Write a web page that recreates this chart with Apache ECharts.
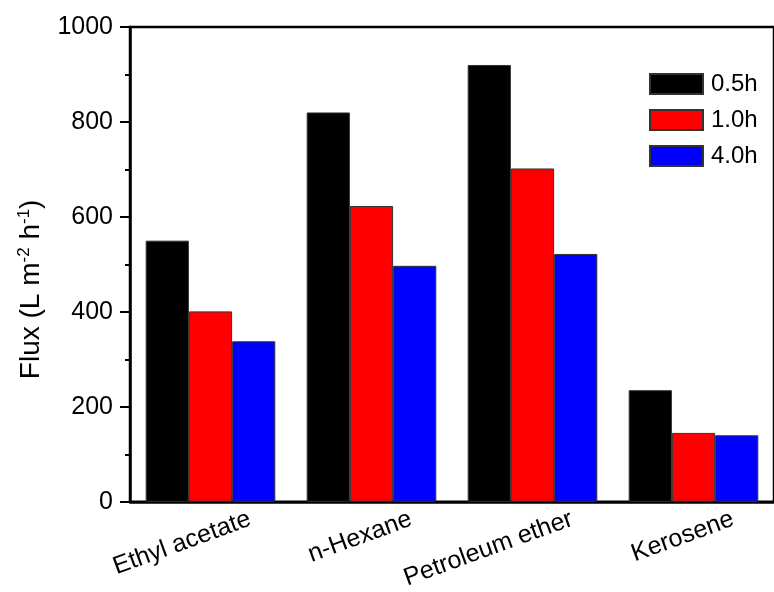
<!DOCTYPE html>
<html>
<head>
<meta charset="utf-8">
<style>html,body{margin:0;padding:0;background:#fff}#chart{width:774px;height:592px}</style>
<script src="https://cdn.jsdelivr.net/npm/echarts@6/dist/echarts.min.js"></script>
</head>
<body>
<div id="chart"></div>
<script>
var categories = ['Ethyl acetate', 'n-Hexane', 'Petroleum ether', 'Kerosene'];
var seriesNames = ['0.5h', '1.0h', '4.0h'];
var flux05 = [550, 820, 920, 235];
var flux10 = [401, 623, 702, 145];
var flux40 = [338, 497, 522, 140];
var yTicks = [0, 200, 400, 600, 800, 1000];

var FONT = '"Liberation Sans", Arial, sans-serif';
var colors = ['#000000', '#ff0000', '#0000ff'];
var values = [flux05, flux10, flux40];

var chart = echarts.init(document.getElementById('chart'), null, {renderer: 'canvas'});
chart.setOption({
  animation: false,
  backgroundColor: '#ffffff',
  textStyle: {fontFamily: FONT, color: '#000'},
  grid: {left: 130, top: 27, right: -7, bottom: 88, show: true, borderColor: '#000', borderWidth: 2.5, backgroundColor: 'transparent'},
  legend: {
    orient: 'vertical', left: 649, top: 72, padding: 0,
    itemWidth: 53, itemHeight: 20, itemGap: 12, icon: 'rect',
    textStyle: {fontSize: 24, fontFamily: FONT, color: '#000', lineHeight: 20, padding: [0, 0, 0, 3]},
    data: seriesNames
  },
  xAxis: {
    type: 'category', data: categories,
    axisLine: {lineStyle: {color: '#000', width: 2.5}},
    axisTick: {alignWithLabel: true, length: 10, lineStyle: {color: '#000', width: 2}},
    axisLabel: {interval: 0, rotate: 20, margin: 31, fontSize: 25, fontFamily: FONT, color: '#000', padding: [0, -42, 0, 0]}
  },
  yAxis: {
    type: 'value', min: yTicks[0], max: yTicks[yTicks.length - 1], interval: 200,
    splitLine: {show: false},
    axisLine: {show: true, lineStyle: {color: '#000', width: 2.5}},
    axisTick: {show: true, length: 10, lineStyle: {color: '#000', width: 2}},
    minorTick: {show: true, splitNumber: 2, length: 5, lineStyle: {color: '#000', width: 2}},
    axisLabel: {margin: 17, fontSize: 25, fontFamily: FONT, color: '#000', formatter: function (v) { return String(v); }},
    name: 'Flux (L m{sup|-2} h{sup|-1})',
    nameLocation: 'middle', nameGap: 84, nameRotate: 90,
    nameTextStyle: {
      fontSize: 28, fontFamily: FONT, color: '#000', padding: [0, 50, 0, 0],
      rich: {sup: {fontSize: 17, fontFamily: FONT, color: '#000', verticalAlign: 'top', lineHeight: 30}}
    }
  },
  series: seriesNames.map(function (n, i) {
    return {
      name: n, type: 'bar', data: values[i],
      barGap: '0%', barCategoryGap: '19.5%',
      itemStyle: {color: colors[i], borderColor: '#333', borderWidth: 1}
    };
  })
});
</script>
</body>
</html>
